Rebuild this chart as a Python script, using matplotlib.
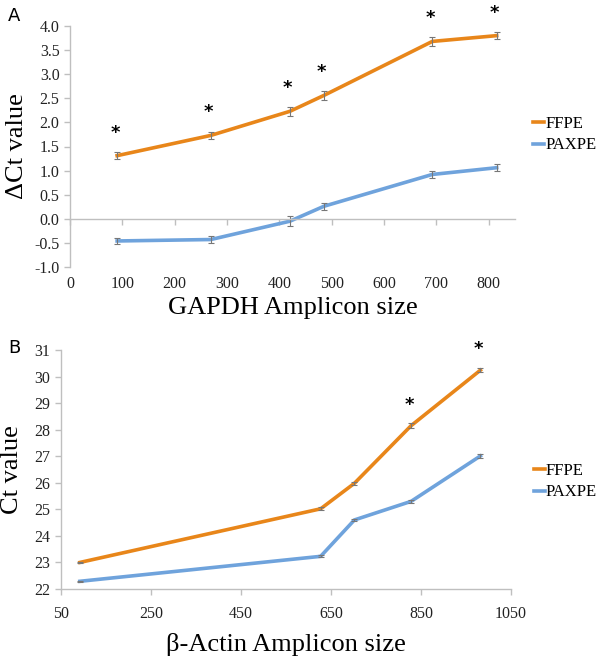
import numpy as np
import matplotlib
matplotlib.use('Agg')
import matplotlib.pyplot as plt

# panel A: GAPDH
gapdh_size = [90, 269, 420, 485, 692, 815]
gapdh_ffpe = [1.31, 1.73, 2.23, 2.56, 3.68, 3.80]
gapdh_ffpe_err = [0.07, 0.07, 0.09, 0.10, 0.09, 0.07]
gapdh_paxpe = [-0.46, -0.43, -0.05, 0.26, 0.92, 1.06]
gapdh_paxpe_err = [0.07, 0.07, 0.10, 0.07, 0.08, 0.07]
gapdh_star = [True, True, True, True, True, True]

# panel B: beta-actin
actin_size = [92, 627, 702, 828, 982]
actin_ffpe = [23.0, 25.02, 25.98, 28.15, 30.24]
actin_ffpe_err = [0.03, 0.05, 0.05, 0.10, 0.07]
actin_paxpe = [22.29, 23.23, 24.6, 25.3, 27.01]
actin_paxpe_err = [0.03, 0.04, 0.05, 0.05, 0.07]
actin_star = [False, False, False, True, True]

orange = '#E8861A'
blue = '#6FA3DC'
grey = '#BFBFBF'
serif = ['Liberation Serif', 'DejaVu Serif']

W, H = 600, 660
fig = plt.figure(figsize=(6, 6.6), dpi=100)


def px_axes(x0, y0, x1, y1):
    return fig.add_axes([x0 / W, 1 - y1 / H, (x1 - x0) / W, (y1 - y0) / H])


def style(ax):
    for s in ['top', 'right']:
        ax.spines[s].set_visible(False)
    for s in ['left', 'bottom']:
        ax.spines[s].set_color(grey)
        ax.spines[s].set_linewidth(1)
    ax.tick_params(colors=grey, length=4, width=1, labelcolor='#222222',
                   labelsize=11.5)
    for lab in ax.get_xticklabels() + ax.get_yticklabels():
        lab.set_family(serif)


def draw(ax, x, y1, e1, y2, e2, stars, dstar, leg_anchor):
    ax.plot(x, y1, color=orange, lw=2.6, label='FFPE', solid_joinstyle='miter')
    ax.plot(x, y2, color=blue, lw=2.6, label='PAXPE', solid_joinstyle='miter')
    ax.errorbar(x, y1, yerr=e1, fmt='none', ecolor='#777777', elinewidth=0.8,
                capsize=2, capthick=0.8)
    ax.errorbar(x, y2, yerr=e2, fmt='none', ecolor='#777777', elinewidth=0.8,
                capsize=2, capthick=0.8)
    for xi, yi, s in zip(x, y1, stars):
        if s:
            ax.text(xi - 4, yi + dstar, '*', ha='center', va='center',
                    fontsize=13, fontweight='bold', family='DejaVu Sans',
                    clip_on=False)
    ax.legend(loc='center left', bbox_to_anchor=leg_anchor, frameon=False,
              borderaxespad=0, borderpad=0,
              handlelength=0.7, handletextpad=0.05, labelspacing=0.35,
              prop={'family': serif, 'size': 12})


# ---- panel A ----
axA = px_axes(70, 26, 515, 267)
draw(axA, gapdh_size, gapdh_ffpe, gapdh_ffpe_err, gapdh_paxpe, gapdh_paxpe_err,
     gapdh_star, 0.48, (1.04, 0.55))
axA.set_xlim(0, 850)
axA.set_ylim(-1.0, 4.0)
axA.set_xticks(np.arange(0, 801, 100))
axA.set_yticks(np.arange(-1.0, 4.01, 0.5))
axA.set_yticklabels([f'{v:.1f}' for v in np.arange(-1.0, 4.01, 0.5)])
axA.spines['bottom'].set_position(('data', 0))
style(axA)
# labels sit at the bottom of the panel, ticks stay on the zero line
padA = (267 - 218.3) * 72 / 100 + 2
axA.tick_params(axis='x', pad=padA)
axA.set_xlabel('GAPDH Amplicon size', family=serif, fontsize=19)
axA.set_ylabel('ΔCt value', family=serif, fontsize=19)
axA.xaxis.set_label_coords(0.5, -0.125)
axA.yaxis.set_label_coords(-0.095, 0.5)
fig.text(8 / W, 1 - 16 / H, 'A', family='DejaVu Sans', fontsize=13, va='center')

# ---- panel B ----
axB = px_axes(61, 350, 511, 589)
draw(axB, actin_size, actin_ffpe, actin_ffpe_err, actin_paxpe, actin_paxpe_err,
     actin_star, 0.78, (1.05, 0.45))
axB.set_xlim(50, 1050)
axB.set_ylim(22, 31)
axB.set_xticks(np.arange(50, 1051, 200))
axB.set_yticks(np.arange(22, 32, 1))
style(axB)
axB.tick_params(axis='x', pad=8)
axB.set_xlabel('β-Actin Amplicon size', family=serif, fontsize=19, labelpad=8)
axB.set_ylabel('Ct value', family=serif, fontsize=19, labelpad=6)
axB.yaxis.set_label_coords(-0.085, 0.5)
fig.text(8 / W, 1 - 348 / H, 'B', family='DejaVu Sans', fontsize=13, va='center')

fig.savefig('out.png', dpi=100)
